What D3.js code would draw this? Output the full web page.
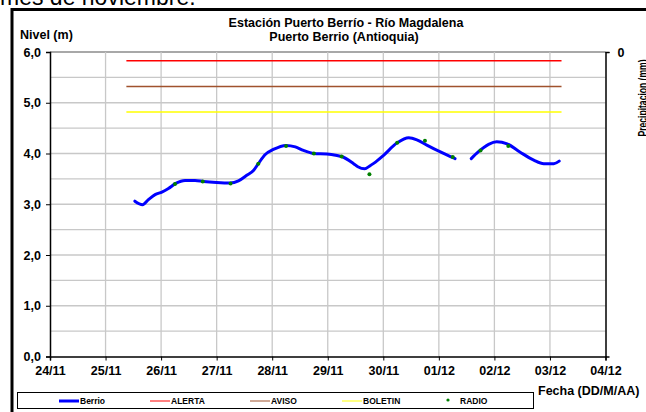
<!DOCTYPE html>
<html>
<head>
<meta charset="utf-8">
<script src="https://cdn.jsdelivr.net/npm/d3@7"></script>
<style>
body{margin:0;background:#fff;}
svg text{font-family:"Liberation Sans",Arial,sans-serif;}
</style>
</head>
<body>
<script>
(function(){

//nivel del rio (m), lectura automatica - null marca el hueco
var berrioTimes = ["25/11 12:40","25/11 16:00","25/11 18:30","25/11 21:25","26/11 00:20","26/11 03:10","26/11 06:20","26/11 10:20","26/11 14:40","26/11 18:20","27/11 00:00","27/11 05:50","27/11 09:25","27/11 13:00","27/11 16:00","27/11 18:00","27/11 21:00","28/11 00:30","28/11 06:00","28/11 10:00","28/11 13:30","28/11 18:00","28/11 23:40","29/11 04:00","29/11 06:00","29/11 11:10","29/11 13:00","29/11 16:00","29/11 18:00","29/11 20:00","30/11 00:00","30/11 06:00","30/11 11:00","30/11 14:30","30/11 19:00","01/12 00:40","01/12 05:00","01/12 07:00","01/12 10:00","01/12 14:00","01/12 17:00","01/12 21:30","02/12 01:00","02/12 05:30","02/12 11:00","02/12 17:00","02/12 21:20","03/12 01:40","03/12 04:00"];
var berrioValues = [3.06,2.99,3.09,3.19,3.24,3.31,3.41,3.47,3.47,3.45,3.43,3.42,3.46,3.57,3.67,3.80,3.98,4.08,4.16,4.13,4.06,4.00,3.99,3.96,3.94,3.80,3.74,3.70,3.75,3.81,3.96,4.21,4.31,4.27,4.16,4.03,3.94,3.90,null,3.90,4.03,4.18,4.23,4.19,4.03,3.87,3.80,3.80,3.85];

//lecturas por radio
var radioTimes = ["26/11 06:00","26/11 18:00","27/11 06:00","27/11 18:00","28/11 06:00","28/11 18:00","29/11 06:00","29/11 18:00","30/11 06:00","30/11 18:00","01/12 06:00","01/12 18:00","02/12 06:00"];
var radioValues = [3.40,3.45,3.41,3.80,4.15,4.00,3.94,3.59,4.21,4.25,3.93,4.06,4.15];

//umbrales
var thresholdNames = ["ALERTA","AVISO","BOLETIN"];
var thresholdValues = [5.83,5.32,4.82];
var thresholdColors = ["#ff0000","#a0522d","#ffff00"];
var thresholdSpan = ["25/11 09:00","03/12 05:00"];

var dayTicks = ["24/11","25/11","26/11","27/11","28/11","29/11","30/11","01/12","02/12","03/12","04/12"];
var levelTicks = [0,1,2,3,4,5,6];

var parseT = d3.timeParse("%d/%m %H:%M");
var parseD = d3.timeParse("%d/%m");

var width = 646, height = 412;
var svg = d3.select("body").append("svg")
    .attr("width", width)
    .attr("height", height);

//texto cortado del documento
svg.append("text")
    .attr("x", 0).attr("y", 4.5)
    .style("font-size", "23px")
    .text("mes de noviembre.");

//marco
svg.append("rect")
    .attr("x", 12).attr("y", 9.5)
    .attr("width", 660).attr("height", 420)
    .attr("fill", "none")
    .attr("stroke", "#000")
    .attr("stroke-width", 3);

var left = 50, right = 605.5, top = 52, bottom = 356.5;

var x = d3.scaleTime()
    .domain([parseD(dayTicks[0]), parseD(dayTicks[dayTicks.length-1])])
    .range([left, right]);
var y = d3.scaleLinear().domain([0, 6]).range([bottom, top]);

//grid
var grid = svg.append("g");
grid.selectAll(".hg").data(d3.range(0.5, 6.01, 0.5)).enter().append("line")
    .attr("x1", left).attr("x2", right)
    .attr("y1", function(d){ return y(d); }).attr("y2", function(d){ return y(d); })
    .attr("stroke", function(d){ return d === 6 ? "#a8a8a8" : "#c8c8c8"; })
    .attr("stroke-width", function(d){ return d === 6 ? 2 : 1.3; });
grid.selectAll(".vg").data(dayTicks.slice(1, -1)).enter().append("line")
    .attr("x1", function(d){ return x(parseD(d)); }).attr("x2", function(d){ return x(parseD(d)); })
    .attr("y1", top).attr("y2", bottom)
    .attr("stroke", "#c8c8c8").attr("stroke-width", 1.3);

//umbrales
thresholdValues.forEach(function(v, i){
    svg.append("line")
        .attr("x1", x(parseT(thresholdSpan[0]))).attr("x2", x(parseT(thresholdSpan[1])))
        .attr("y1", y(v)).attr("y2", y(v))
        .attr("stroke", thresholdColors[i]).attr("stroke-width", 1.5);
});

//ejes
var yAxis = d3.axisLeft(y).tickValues(levelTicks).tickSize(4).tickFormat(function(d){ return d3.format(".1f")(d).replace(".", ","); });
var yg = svg.append("g").attr("transform", "translate(" + left + ",0)").call(yAxis);
yg.select(".domain").attr("stroke-width", 1.5);
yg.selectAll("text").attr("x", -9).style("font-size", "12.5px").style("font-weight", "bold").attr("fill", "#000");

var xAxis = d3.axisBottom(x).tickValues(dayTicks.map(function(d){ return parseD(d); })).tickSize(4).tickFormat(d3.timeFormat("%d/%m"));
var xg = svg.append("g").attr("transform", "translate(0," + bottom + ")").call(xAxis);
xg.select(".domain").attr("stroke-width", 1.5);
xg.selectAll("text").attr("y", 10).style("font-size", "12.5px").style("font-weight", "bold").attr("fill", "#000");

//eje derecho (precipitacion)
var y2 = d3.scaleLinear().domain([0, 1]).range([top, bottom]);
var y2g = svg.append("g").attr("transform", "translate(" + right + ",0)")
    .call(d3.axisRight(y2).tickValues([0]).tickSize(4).tickFormat(d3.format("d")));
y2g.select(".domain").attr("stroke-width", 1.5);
y2g.selectAll("text").attr("x", 12).style("font-size", "12.5px").style("font-weight", "bold").attr("fill", "#000");

svg.append("text")
    .attr("transform", "translate(647,98) rotate(-90)")
    .attr("text-anchor", "middle")
    .attr("textLength", 77).attr("lengthAdjust", "spacingAndGlyphs")
    .style("font-size", "12px").style("font-weight", "bold")
    .text("Precipitacion (mm)");

//serie Berrio
var berrio = berrioTimes.map(function(t, i){ return {t: parseT(t), v: berrioValues[i]}; });
var line = d3.line()
    .defined(function(d){ return d.v !== null; })
    .x(function(d){ return x(d.t); })
    .y(function(d){ return y(d.v); })
    .curve(d3.curveMonotoneX);
svg.append("path")
    .datum(berrio)
    .attr("d", line)
    .attr("fill", "none")
    .attr("stroke", "#0000ff")
    .attr("stroke-width", 3)
    .attr("stroke-linejoin", "round")
    .attr("stroke-linecap", "round");

//serie RADIO
svg.selectAll(".radio")
    .data(radioTimes)
    .enter().append("circle")
    .attr("cx", function(d){ return x(parseT(d)); })
    .attr("cy", function(d, i){ return y(radioValues[i]); })
    .attr("r", 2)
    .attr("fill", "#008000");

//titulos
svg.append("text").attr("x", 346).attr("y", 27).attr("text-anchor", "middle")
    .style("font-size", "12.5px").style("font-weight", "bold")
    .text("Estación Puerto Berrío - Río Magdalena");
svg.append("text").attr("x", 344).attr("y", 41).attr("text-anchor", "middle")
    .style("font-size", "12.5px").style("font-weight", "bold")
    .text("Puerto Berrio (Antioquia)");
svg.append("text").attr("x", 20).attr("y", 39)
    .style("font-size", "12.5px").style("font-weight", "bold")
    .text("Nivel (m)");
svg.append("text").attr("x", 538).attr("y", 395)
    .style("font-size", "12.5px").style("font-weight", "bold")
    .text("Fecha (DD/M/AA)");

//leyenda
var legend = svg.append("g");
legend.append("rect")
    .attr("x", 17.5).attr("y", 392.5).attr("width", 516).attr("height", 16)
    .attr("fill", "#fff").attr("stroke", "#000").attr("stroke-width", 1);
var legendItems = [
    {name: "Berrio", color: "#0000ff", x: 59, w: 3},
    {name: thresholdNames[0], color: thresholdColors[0], x: 150, w: 1},
    {name: thresholdNames[1], color: thresholdColors[1], x: 250, w: 1},
    {name: thresholdNames[2], color: thresholdColors[2], x: 342, w: 1}
];
legendItems.forEach(function(d){
    legend.append("line")
        .attr("x1", d.x).attr("x2", d.x + 20)
        .attr("y1", 401).attr("y2", 401)
        .attr("stroke", d.color).attr("stroke-width", d.w);
    legend.append("text").attr("x", d.x + 21).attr("y", 404)
        .style("font-size", "8.5px").style("font-weight", "bold")
        .text(d.name);
});
legend.append("circle").attr("cx", 448).attr("cy", 400).attr("r", 1.6).attr("fill", "#008000");
legend.append("text").attr("x", 460).attr("y", 404)
    .style("font-size", "8.5px").style("font-weight", "bold")
    .text("RADIO");

})();
</script>
</body>
</html>
